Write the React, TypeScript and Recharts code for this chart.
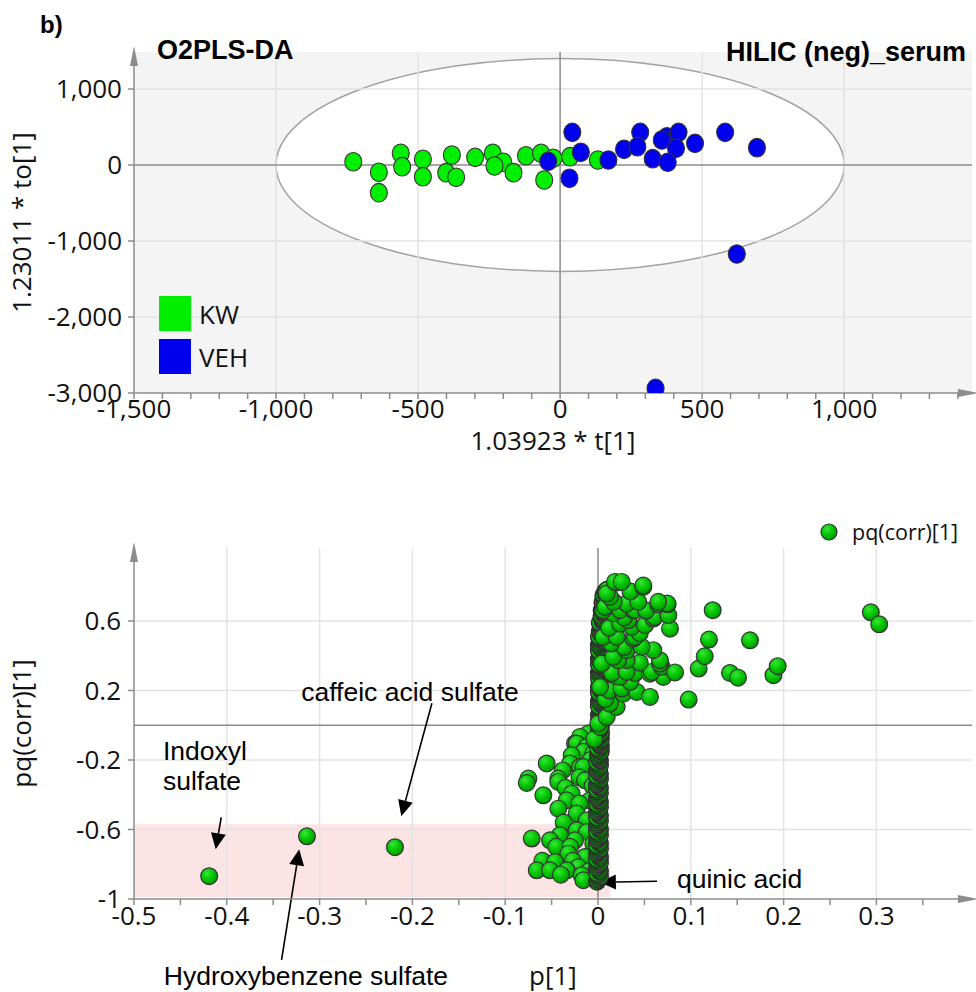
import React from 'react'
import {
  ScatterChart,
  Scatter,
  XAxis,
  YAxis,
  CartesianGrid,
  ReferenceLine,
  ReferenceArea,
  ReferenceDot,
  Legend,
} from 'recharts'

const SANS = '"Open Sans", "Noto Sans", sans-serif'
const ARIAL = '"Liberation Sans", Arial, sans-serif'

// ---- O2PLS-DA score plot: [1.03923 * t[1], 1.23011 * to[1]]
const kwScores = [
  [-728, 43], [-638, -96], [-638, -364], [-561, 154], [-556, -22], [-483, 75], [-483, -154],
  [-381, 132], [-401, -101], [-366, -162], [-299, 101], [-237, 154], [-200, 36], [-231, -13],
  [-164, -101], [-120, 122], [-67, 154], [-24, 88], [-56, -197], [35, 109], [133, 66],
]
const vehScores = [
  [-42, 48], [43, 430], [33, -175], [73, 167], [170, 66], [225, 207], [282, 430], [272, 241],
  [326, 83], [376, 372], [358, 329], [417, 430], [408, 220], [379, 36], [475, 285], [581, 430],
  [693, 228], [622, -1171], [336, -2939],
]
const scoreXTicks = [
  -1500, -1400, -1300, -1200, -1100, -1000, -900, -800, -700, -600, -500, -400, -300, -200, -100,
  0, 100, 200, 300, 400, 500, 600, 700, 800, 900, 1000, 1100, 1200, 1300, 1400,
]
const scoreYTicks = [-3000, -2000, -1000, 0, 1000]
const scoreGridX = [-1000, -500, 500, 1000]
const scoreGridY = [-2000, -1000, 1000]
const groups = ['KW', 'VEH']

// ---- S-plot: [p[1], pq(corr)[1]]
const labelledHits = [
  [-0.419, -0.869], [-0.3136, -0.639], [-0.2188, -0.702],
]
const centreBand = [
  [-0.001, -0.9], [0.001, -0.88], [0.0, -0.86], [0.002, -0.84], [-0.001, -0.82], [0.001, -0.8],
  [0.0, -0.78], [0.002, -0.76], [-0.001, -0.74], [0.001, -0.72], [0.0, -0.7], [0.002, -0.68],
  [-0.001, -0.66], [0.001, -0.64], [0.0, -0.62], [0.002, -0.6], [-0.001, -0.58], [0.001, -0.56],
  [0.0, -0.54], [0.002, -0.52], [-0.001, -0.5], [0.001, -0.48], [0.0, -0.46], [0.002, -0.44],
  [-0.001, -0.42], [0.001, -0.4], [0.0, -0.38], [0.002, -0.36], [-0.001, -0.34], [0.001, -0.32],
  [0.0, -0.3], [0.002, -0.28], [-0.001, -0.26], [0.001, -0.24], [0.0, -0.22], [0.002, -0.2],
  [0.0, -0.18], [0.002, -0.16], [0.001, -0.14], [0.003, -0.12], [0.001, -0.1], [0.003, -0.08],
  [0.002, -0.06], [0.003, -0.04], [0.002, -0.02], [0.002, 0.02], [0.004, 0.04], [0.001, 0.06],
  [0.003, 0.08], [0.002, 0.1], [0.004, 0.12], [0.001, 0.14], [0.003, 0.16], [0.002, 0.18],
  [0.004, 0.2], [0.001, 0.22], [0.003, 0.24], [0.002, 0.26], [0.004, 0.28], [0.001, 0.3],
  [0.003, 0.32], [0.002, 0.34], [0.004, 0.36], [0.001, 0.38], [0.003, 0.4], [0.002, 0.42],
  [0.004, 0.44], [0.001, 0.46], [0.003, 0.48], [0.002, 0.5], [0.004, 0.52], [0.002, 0.54],
  [0.004, 0.56], [0.003, 0.58], [0.005, 0.6], [0.004, 0.62], [0.006, 0.64], [0.004, 0.66],
  [0.006, 0.68], [0.005, 0.7], [0.007, 0.72], [0.006, 0.74], [0.008, 0.76],
]
const centreBandInner = [
  [0.0, -0.89], [0.002, -0.87], [-0.001, -0.85], [0.001, -0.83], [0.0, -0.81], [0.002, -0.79],
  [-0.001, -0.77], [0.001, -0.75], [0.0, -0.73], [0.002, -0.71], [-0.001, -0.69], [0.001, -0.67],
  [0.0, -0.65], [0.002, -0.63], [-0.001, -0.61], [0.001, -0.59], [0.0, -0.57], [0.002, -0.55],
  [-0.001, -0.53], [0.001, -0.51], [0.0, -0.49], [0.002, -0.47], [-0.001, -0.45], [0.001, -0.43],
  [0.0, -0.41], [0.002, -0.39], [-0.001, -0.37], [0.001, -0.35], [0.0, -0.33], [0.002, -0.31],
  [-0.001, -0.29], [0.001, -0.27], [0.0, -0.25], [0.002, -0.23], [-0.001, -0.21], [0.001, -0.19],
  [0.001, -0.17], [0.003, -0.15], [0.0, -0.13], [0.002, -0.11], [0.002, -0.09], [0.001, -0.07],
  [0.003, -0.05], [0.001, -0.03], [0.003, -0.01], [0.003, 0.01], [0.001, 0.03], [0.003, 0.05],
  [0.002, 0.07], [0.004, 0.09], [0.001, 0.11], [0.003, 0.13], [0.002, 0.15], [0.004, 0.17],
  [0.001, 0.19], [0.003, 0.21], [0.002, 0.23], [0.004, 0.25], [0.001, 0.27], [0.003, 0.29],
  [0.002, 0.31], [0.004, 0.33], [0.001, 0.35], [0.003, 0.37], [0.002, 0.39], [0.004, 0.41],
  [0.001, 0.43], [0.003, 0.45], [0.002, 0.47], [0.004, 0.49], [0.001, 0.51], [0.003, 0.53],
  [0.003, 0.55], [0.005, 0.57], [0.002, 0.59], [0.005, 0.61], [0.004, 0.63], [0.006, 0.65],
  [0.005, 0.67], [0.007, 0.69], [0.005, 0.71], [0.007, 0.73], [0.006, 0.75], [0.008, 0.77],
  [0.01, 0.78],
]
const lowerCluster = [
  [-0.0104, -0.048], [-0.0194, -0.067], [-0.0248, -0.105], [-0.023, -0.105], [-0.0122, -0.125],
  [-0.0158, -0.153], [-0.0051, -0.163], [-0.0284, -0.173], [-0.008, -0.2], [-0.0553, -0.22],
  [-0.0302, -0.22], [-0.0194, -0.24], [-0.0158, -0.24], [-0.038, -0.26], [-0.02, -0.3],
  [-0.075, -0.307], [-0.0428, -0.307], [-0.014, -0.317], [-0.0768, -0.332], [-0.0428, -0.326],
  [-0.006, -0.35], [-0.035, -0.36], [-0.0589, -0.403], [-0.0284, -0.393], [-0.0086, -0.432],
  [-0.0337, -0.432], [-0.02, -0.45], [-0.0428, -0.48], [-0.023, -0.508], [-0.0122, -0.547],
  [-0.037, -0.56], [-0.023, -0.604], [-0.0122, -0.614], [-0.041, -0.633], [-0.0714, -0.652],
  [-0.0517, -0.662], [-0.0248, -0.662], [-0.0051, -0.681], [-0.045, -0.7], [-0.03, -0.7],
  [-0.032, -0.739], [-0.0086, -0.758], [-0.014, -0.758], [-0.06, -0.78], [-0.027, -0.78],
  [-0.0463, -0.787], [-0.0212, -0.816], [-0.066, -0.835], [-0.0517, -0.835], [-0.0337, -0.835],
  [-0.01, -0.84], [-0.04, -0.86], [-0.0176, -0.863], [-0.0158, -0.892],
]
const upperCluster = [
  [-0.004, -0.08], [0.002, -0.01], [0.0003, 0.01], [0.0094, 0.048], [0.0201, 0.105], [0.0129, 0.125],
  [0.008, 0.15], [0.012, 0.2], [0.0273, 0.182], [0.0417, 0.192], [0.0255, 0.211], [0.0022, 0.22],
  [0.056, 0.163], [0.035, 0.25], [0.0237, 0.278], [0.0704, 0.278], [0.015, 0.3], [0.04, 0.3],
  [0.056, 0.297], [0.0309, 0.307], [0.0578, 0.307], [0.0686, 0.336], [0.004, 0.355],
  [0.0668, 0.355], [0.045, 0.36], [0.0309, 0.374], [0.0219, 0.374], [0.0668, 0.374],
  [0.0165, 0.393], [0.0309, 0.432], [0.0596, 0.432], [0.028, 0.45], [0.047, 0.451], [0.014, 0.47],
  [0.038, 0.499], [0.0057, 0.508], [0.0201, 0.508], [0.0399, 0.508], [0.045, 0.53], [0.012, 0.56],
  [0.0363, 0.566], [0.0506, 0.576], [0.0237, 0.585], [0.0776, 0.556], [0.0327, 0.604],
  [0.0596, 0.614], [0.028, 0.62], [0.0614, 0.623], [0.0758, 0.633], [0.0165, 0.643],
  [0.0057, 0.662], [0.0237, 0.662], [0.038, 0.662], [0.0399, 0.662], [0.052, 0.66],
  [0.0075, 0.681], [0.065, 0.696], [0.075, 0.696], [0.0309, 0.7], [0.0747, 0.7], [0.065, 0.71],
  [0.0434, 0.71], [0.017, 0.71], [0.0129, 0.738], [0.0094, 0.758], [0.035, 0.77], [0.0488, 0.796],
  [0.0488, 0.804], [0.0201, 0.821], [0.0183, 0.825], [0.0255, 0.825], [0.083, 0.304],
]
const rightArm = [
  [0.0977, 0.148], [0.1085, 0.326], [0.115, 0.397], [0.1196, 0.493], [0.1236, 0.662],
  [0.1422, 0.301], [0.1509, 0.274], [0.1638, 0.489], [0.189, 0.288], [0.1936, 0.34],
  [0.294, 0.65], [0.303, 0.581],
]
const loadingTicks = [
  -0.5, -0.45, -0.4, -0.35, -0.3, -0.25, -0.2, -0.15, -0.1, -0.05, 0, 0.05, 0.1, 0.15, 0.2, 0.25,
  0.3, 0.35,
]
const corrTicks = [-1, -0.6, -0.2, 0.2, 0.6]
const loadingGridX = [-0.4, -0.3, -0.2, -0.1, 0.1, 0.2, 0.3]
const corrGridY = [-0.6, -0.2, 0.2, 0.6]

const callouts = [
  { lines: ['caffeic acid sulfate'], at: [-0.2026, 0.19], anchor: 'middle', from: [-0.179, 0.127], to: [-0.212, -0.524] },
  { lines: ['Indoxyl', 'sulfate'], at: [-0.4688, -0.144], anchor: 'start', from: [-0.406, -0.53], to: [-0.412, -0.714] },
  { lines: ['Hydroxybenzene sulfate'], at: [-0.3147, -1.439], anchor: 'middle', from: [-0.341, -1.35], to: [-0.322, -0.714] },
  { lines: ['quinic acid'], at: [0.0851, -0.886], anchor: 'start', from: [0.0636, -0.898], to: [0.002, -0.904] },
]

const toPts = (arr: number[][]) => arr.map(([x, y]) => ({ x, y }))
// the two band lists interleave along pq(corr), drawn bottom to top
const bandPts = toPts([...centreBand, ...centreBandInner].sort((a, b) => a[1] - b[1]))

const AXIS = '#8c8c8c'
const GRID = '#e3e3e3'
const TICK = { fill: '#111', fontSize: 26 }

const scoreDot = (color: string) => (p: any) => (
  <ellipse cx={p.cx} cy={p.cy} rx={8.5} ry={9.3} fill={color} stroke="#333" strokeWidth={1.1} />
)
const corrDot = (p: any) => (
  <circle cx={p.cx} cy={p.cy} r={8.4} fill="url(#corrFill)" stroke="#333" strokeWidth={1.2} />
)
const bandDot = (p: any) => (
  <circle cx={p.cx} cy={p.cy} r={8.4} fill="url(#corrFill)" stroke="#2e2e2e" strokeWidth={1.4} />
)

const EllipseShape = (p: any) => (
  <ellipse
    cx={p.x + p.width / 2}
    cy={p.y + p.height / 2}
    rx={p.width / 2}
    ry={p.height / 2}
    fill="#fff"
    stroke="#a3a3a3"
    strokeWidth={1.5}
  />
)

function XTitle({ viewBox, text, dy }: any) {
  const { x, y, width } = viewBox
  const ex = x + width
  return (
    <g>
      <polygon points={`${ex + 6},${y} ${ex - 14},${y - 4} ${ex - 14},${y + 4}`} fill={AXIS} />
      <text x={x + width / 2} y={y + dy} textAnchor="middle" dominantBaseline="central" fontSize={26} fill="#111">
        {text}
      </text>
    </g>
  )
}

function YTitle({ viewBox, text }: any) {
  const { x, y, width, height } = viewBox
  const ax = x + width
  return (
    <g>
      <polygon points={`${ax},${y - 6} ${ax - 4},${y + 14} ${ax + 4},${y + 14}`} fill={AXIS} />
      <text
        transform={`translate(${x + 21},${y + height / 2}) rotate(-90)`}
        textAnchor="middle"
        dominantBaseline="central"
        fontSize={26}
        fill="#111"
      >
        {text}
      </text>
    </g>
  )
}

function Arrow(p: any) {
  const { x1, y1, x2, y2 } = p
  const ang = Math.atan2(y2 - y1, x2 - x1)
  const L = 16
  const W = 7.5
  const bx = x2 - L * Math.cos(ang)
  const by = y2 - L * Math.sin(ang)
  const nx = -Math.sin(ang) * W
  const ny = Math.cos(ang) * W
  return (
    <g>
      <line x1={x1} y1={y1} x2={bx} y2={by} stroke="#000" strokeWidth={1.6} />
      <polygon points={`${x2},${y2} ${bx + nx},${by + ny} ${bx - nx},${by - ny}`} fill="#000" />
    </g>
  )
}

const calloutText = (lines: string[], anchor: string) => (p: any) => (
  <text x={p.cx} y={p.cy} textAnchor={anchor} fontFamily={ARIAL} fontSize={26.5} fill="#000">
    {lines.map((l, i) => (
      <tspan key={l} x={p.cx} dy={i === 0 ? '0.35em' : '1.15em'}>
        {l}
      </tspan>
    ))}
  </text>
)

function ScoreLegend() {
  const colors = ['#00ee00', '#0000ee']
  return (
    <div style={{ fontFamily: SANS, fontSize: 26, color: '#111' }}>
      {groups.map((g, i) => (
        <div key={g} style={{ display: 'flex', alignItems: 'center', height: 43 }}>
          <span style={{ width: 32, height: 35, background: colors[i], display: 'inline-block', marginRight: 8 }} />
          {g}
        </div>
      ))}
    </div>
  )
}

function CorrLegend() {
  return (
    <div style={{ display: 'flex', alignItems: 'center', fontFamily: SANS, fontSize: 21.5, color: '#111' }}>
      <svg width={20} height={20} style={{ marginRight: 13 }}>
        <circle cx={10} cy={10} r={8} fill="url(#corrFill)" stroke="#333" strokeWidth={1.2} />
      </svg>
      pq(corr)[1]
    </div>
  )
}

function ScoreChart() {
  return (
    <ScatterChart width={976} height={470} margin={{ top: 52, right: 4, bottom: 0, left: 0 }}>
      <CartesianGrid horizontal={false} vertical={false} fill="#f4f4f4" />
      <ReferenceArea x1={-1000} x2={1000} y1={-1400} y2={1400} shape={EllipseShape} />
      {scoreGridX.map((v) => (
        <ReferenceLine key={'gx' + v} x={v} stroke={GRID} strokeWidth={1.5} />
      ))}
      {scoreGridY.map((v) => (
        <ReferenceLine key={'gy' + v} y={v} stroke={GRID} strokeWidth={1.5} />
      ))}
      <ReferenceLine x={0} stroke={AXIS} strokeWidth={1.5} />
      <ReferenceLine y={0} stroke={AXIS} strokeWidth={1.5} />
      <XAxis
        type="number"
        dataKey="x"
        domain={[-1500, 1450]}
        ticks={scoreXTicks}
        interval={0}
        allowDataOverflow
        tickFormatter={(v: number) => (v % 500 === 0 ? v.toLocaleString('en-US') : '')}
        height={77}
        stroke={AXIS}
        strokeWidth={1.5}
        tickSize={6}
        tickMargin={1}
        tick={TICK}
        label={(p: any) => <XTitle viewBox={p.viewBox} text="1.03923 * t[1]" dy={47} />}
      />
      <YAxis
        type="number"
        dataKey="y"
        domain={[-3000, 1487]}
        ticks={scoreYTicks}
        interval={0}
        allowDataOverflow
        tickFormatter={(v: number) => v.toLocaleString('en-US')}
        width={134}
        stroke={AXIS}
        strokeWidth={1.5}
        tickSize={6}
        tickMargin={6}
        tick={TICK}
        label={(p: any) => <YTitle viewBox={p.viewBox} text="1.23011 * to[1]" />}
      />
      <Scatter name="KW" data={toPts(kwScores)} shape={scoreDot('#00ee00')} isAnimationActive={false} />
      <Scatter name="VEH" data={toPts(vehScores)} shape={scoreDot('#0000ee')} isAnimationActive={false} />
      <Legend
        layout="horizontal"
        verticalAlign="middle"
        align="center"
        wrapperStyle={{ left: 159, top: 292, width: 120 }}
        content={() => <ScoreLegend />}
      />
    </ScatterChart>
  )
}

function LoadingChart() {
  return (
    <ScatterChart width={976} height={512} margin={{ top: 68, right: 4, bottom: 0, left: 0 }}>
      <ReferenceArea x1={-0.5} x2={0.013} y1={-0.99} y2={-0.57} fill="#fde4e4" fillOpacity={1} stroke="none" />
      {loadingGridX.map((v) => (
        <ReferenceLine key={'gx' + v} x={v} stroke={GRID} strokeWidth={1.5} />
      ))}
      {corrGridY.map((v) => (
        <ReferenceLine key={'gy' + v} y={v} stroke={GRID} strokeWidth={1.5} />
      ))}
      <ReferenceLine x={0} stroke={AXIS} strokeWidth={1.5} />
      <ReferenceLine y={0} stroke={AXIS} strokeWidth={1.5} />
      <XAxis
        type="number"
        dataKey="x"
        domain={[-0.5, 0.403]}
        ticks={loadingTicks}
        interval={0}
        allowDataOverflow
        tickFormatter={(v: number) => (Math.round(v * 100) % 10 === 0 ? String(Math.round(v * 10) / 10) : '')}
        height={93}
        stroke={AXIS}
        strokeWidth={1.5}
        tickSize={6}
        tickMargin={2}
        tick={TICK}
        label={(p: any) => <XTitle viewBox={p.viewBox} text="p[1]" dy={76} />}
      />
      <YAxis
        type="number"
        dataKey="y"
        domain={[-1, 1.02]}
        ticks={corrTicks}
        interval={0}
        allowDataOverflow
        tickFormatter={(v: number) => String(v)}
        width={134}
        stroke={AXIS}
        strokeWidth={1.5}
        tickSize={6}
        tickMargin={7}
        tick={TICK}
        label={(p: any) => <YTitle viewBox={p.viewBox} text="pq(corr)[1]" />}
      />
      <Scatter name="lower" data={toPts(lowerCluster)} shape={corrDot} isAnimationActive={false} legendType="none" />
      <Scatter name="band" data={bandPts} shape={bandDot} isAnimationActive={false} legendType="none" />
      <Scatter name="upper" data={toPts(upperCluster)} shape={corrDot} isAnimationActive={false} legendType="none" />
      <Scatter name="pq(corr)[1]" data={toPts(rightArm)} shape={corrDot} isAnimationActive={false} />
      <Scatter name="hits" data={toPts(labelledHits)} shape={corrDot} isAnimationActive={false} legendType="none" />
      {callouts.map((c) => (
        <ReferenceLine
          key={'a' + c.lines[0]}
          segment={[
            { x: c.from[0], y: c.from[1] },
            { x: c.to[0], y: c.to[1] },
          ]}
          ifOverflow="visible"
          shape={Arrow}
        />
      ))}
      {callouts.map((c) => (
        <ReferenceDot
          key={'t' + c.lines[0]}
          x={c.at[0]}
          y={c.at[1]}
          r={0}
          ifOverflow="visible"
          shape={calloutText(c.lines, c.anchor)}
        />
      ))}
      <Legend
        layout="horizontal"
        verticalAlign="middle"
        align="center"
        wrapperStyle={{ left: 819, top: 37, width: 157 }}
        content={() => <CorrLegend />}
      />
    </ScatterChart>
  )
}

export default function App() {
  return (
    <div
      style={{
        position: 'absolute',
        left: 0,
        top: 0,
        width: 976,
        height: 992,
        background: '#fff',
        fontFamily: SANS,
        overflow: 'hidden',
      }}
    >
      <svg width={0} height={0} style={{ position: 'absolute' }}>
        <defs>
          <radialGradient id="corrFill" cx="38%" cy="32%" r="72%">
            <stop offset="0%" stopColor="#35e835" />
            <stop offset="55%" stopColor="#00c300" />
            <stop offset="100%" stopColor="#009000" />
          </radialGradient>
        </defs>
      </svg>
      <div style={{ position: 'absolute', left: 0, top: 0 }}>
        <ScoreChart />
      </div>
      <div style={{ position: 'absolute', left: 0, top: 480 }}>
        <LoadingChart />
      </div>
      <div style={{ position: 'absolute', left: 40, top: 12, font: `bold 24px ${ARIAL}`, lineHeight: '26px' }}>b)</div>
      <div style={{ position: 'absolute', left: 157, top: 36, font: `bold 27px ${ARIAL}`, lineHeight: '28px' }}>
        O2PLS-DA
      </div>
      <div style={{ position: 'absolute', right: 10, top: 38, font: `bold 27px ${ARIAL}`, lineHeight: '28px' }}>
        HILIC (neg)_serum
      </div>
    </div>
  )
}
